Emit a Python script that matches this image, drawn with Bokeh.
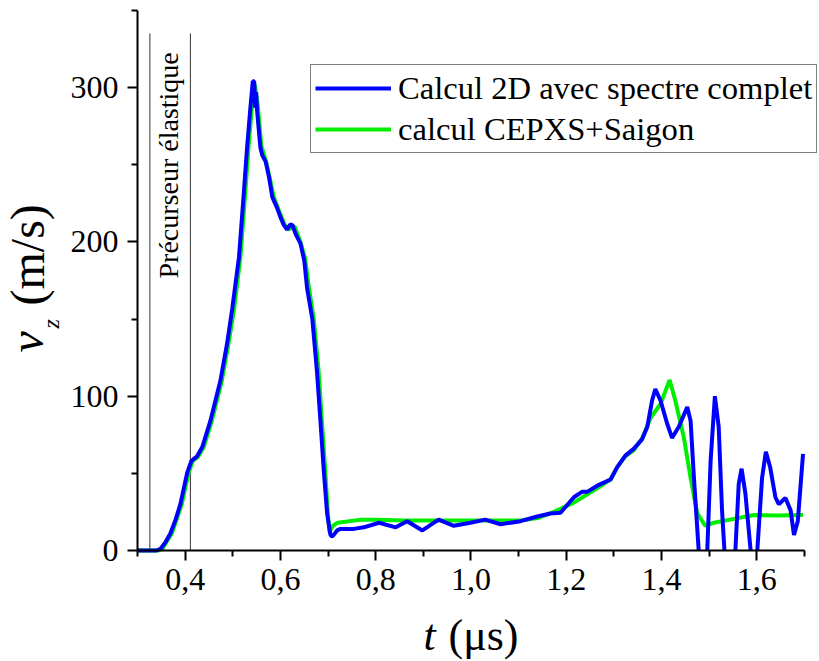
import math
from bokeh.plotting import figure
from bokeh.models import Label, Legend, LegendItem, FixedTicker
from bokeh.embed import file_html
from bokeh.resources import INLINE

nan = float("nan")  # parts of the curve hidden below the axis

# ---- data ----
t_blue = [0.30, 0.34, 0.348, 0.358, 0.369, 0.380, 0.390, 0.404, 0.413, 0.425, 0.436, 0.453,
          0.474, 0.488, 0.499, 0.513, 0.523, 0.530, 0.537, 0.542, 0.545, 0.547, 0.549, 0.551,
          0.558, 0.562, 0.569, 0.576, 0.583, 0.593, 0.600, 0.607, 0.614, 0.620, 0.625, 0.632,
          0.642, 0.650, 0.656, 0.667, 0.677, 0.684, 0.691, 0.698, 0.705, 0.709, 0.719, 0.726,
          0.754, 0.775, 0.807, 0.842, 0.866, 0.898, 0.932, 0.964, 0.999, 1.030, 1.062, 1.104,
          1.139, 1.167, 1.188, 1.216, 1.233, 1.244, 1.265, 1.293, 1.307, 1.324, 1.342, 1.359,
          1.370, 1.380, 1.387, 1.398, 1.412, 1.422, 1.436, 1.454, 1.461, 1.468, 1.478, 1.487,
          1.496, 1.503, 1.512, 1.520, 1.527, 1.532, 1.543, 1.555, 1.562, 1.568, 1.576, 1.587,
          1.594, 1.601, 1.611, 1.619, 1.628, 1.639, 1.646, 1.660, 1.671, 1.678, 1.686, 1.697]
v_blue = [0, 0, 1, 5, 11, 20, 30, 50, 58, 61, 67, 84,
          110, 134, 157, 190, 231, 261, 287, 304, 304, 287, 297, 285,
          261, 256, 252, 242, 229, 222, 216, 211, 208, 211, 211, 205,
          199, 188, 170, 150, 115, 84, 52, 24, 10, 9, 13, 14,
          14, 15, 18, 15, 19, 13, 20, 16, 18, 20, 17, 19,
          22, 24, 24.5, 34.5, 38, 38, 42, 46, 54, 61.5, 66, 72,
          80, 97, 104.6, 97, 82, 73, 80, 93, 84, 47, 0, nan,
          0, 58, 100, 80, 26, 0, nan, 0, 43, 53, 37, 0,
          nan, 0, 47, 64, 54, 34.5, 30, 34, 26, 10, 19, 62.6]

t_green = [0.30, 0.345, 0.352, 0.372, 0.393, 0.407, 0.416, 0.428, 0.439, 0.456, 0.477, 0.491,
           0.503, 0.516, 0.526, 0.533, 0.540, 0.546, 0.552, 0.560, 0.570, 0.578, 0.586, 0.596,
           0.609, 0.617, 0.630, 0.642, 0.652, 0.660, 0.670, 0.680, 0.687, 0.694, 0.700, 0.703,
           0.710, 0.720, 0.770, 0.800, 0.860, 0.960, 1.050, 1.104, 1.140, 1.174, 1.216, 1.258,
           1.293, 1.307, 1.324, 1.342, 1.360, 1.377, 1.398, 1.417, 1.429, 1.447, 1.461, 1.475,
           1.492, 1.510, 1.552, 1.594, 1.643, 1.697]
v_green = [0, 0, 1, 11, 30, 50, 58, 61, 67, 84, 110, 134,
           157, 190, 231, 261, 287, 302, 290, 262, 252, 241, 229, 221,
           211, 208, 210, 200, 189, 170, 150, 117, 84, 52, 22, 12,
           16, 18, 20, 20, 19.5, 19.5, 19.5, 19.5, 21, 25, 31, 39,
           46, 54, 61, 65, 73, 86, 95, 110.5, 97, 73, 47, 24,
           16, 18, 20.5, 23, 22.6, 23]

precursor_t = [0.326, 0.411]
precursor_top = 335

x_ticks = [0.4, 0.6, 0.8, 1.0, 1.2, 1.4, 1.6]
x_tick_labels = ["0,4", "0,6", "0,8", "1,0", "1,2", "1,4", "1,6"]
x_minor = [0.3, 0.5, 0.7, 0.9, 1.1, 1.3, 1.5, 1.7]
y_ticks = [0, 100, 200, 300]
y_minor = [50, 150, 250, 350]
x_bounds = (0.3, 1.7)
y_bounds = (0, 350)

series_names = ["Calcul 2D avec spectre complet", "calcul CEPXS+Saigon"]

# ---- layout (pixels) ----
W, H = 819, 661
AX_LEFT_PX = 137      # pixel column of t = 0.3
AX_BOTTOM_PX = 550    # pixel row of v = 0
PX_PER_T = 476.4
PX_PER_V = 1.5433
x_start = x_bounds[0] - AX_LEFT_PX / PX_PER_T
x_end = x_bounds[0] + (W - AX_LEFT_PX) / PX_PER_T
y_start = -(H - AX_BOTTOM_PX) / PX_PER_V
y_end = AX_BOTTOM_PX / PX_PER_V

SERIF = "Liberation Serif"

p = figure(width=W, height=H, x_range=(x_start, x_end), y_range=(y_start, y_end),
           output_backend="svg", toolbar_location=None, min_border=0)
p.min_border_left = p.min_border_right = p.min_border_top = p.min_border_bottom = 0
p.title.visible = False
p.xgrid.visible = False
p.ygrid.visible = False
p.outline_line_color = None
p.background_fill_color = "white"
p.border_fill_color = "white"

for ax in (p.xaxis[0], p.yaxis[0]):
    ax.axis_line_width = 2
    ax.axis_line_color = "black"
    ax.major_tick_line_width = 2
    ax.minor_tick_line_width = 2
    ax.major_tick_line_color = "black"
    ax.minor_tick_line_color = "black"
    ax.major_tick_in = 0
    ax.major_tick_out = 10
    ax.minor_tick_in = 0
    ax.minor_tick_out = 6
    ax.major_label_text_font = SERIF
    ax.major_label_text_font_size = "32px"
    ax.major_label_text_color = "black"
    ax.major_label_standoff = 8

p.xaxis.fixed_location = y_bounds[0]
p.xaxis.bounds = x_bounds
p.yaxis.fixed_location = x_bounds[0]
p.yaxis.bounds = y_bounds
p.yaxis.major_label_standoff = 9
p.xaxis.ticker = FixedTicker(ticks=x_ticks, minor_ticks=x_minor)
p.xaxis.major_label_overrides = {t: lab for t, lab in zip(x_ticks, x_tick_labels)}
p.yaxis.ticker = FixedTicker(ticks=y_ticks, minor_ticks=y_minor)

# precursor lines
p.segment(x0=precursor_t, y0=[0, 0], x1=precursor_t, y1=[precursor_top, precursor_top],
          line_color="#303030", line_width=1)

rg = p.line(t_green, v_green, line_color="#00ee00", line_width=4)
rb = p.line(t_blue, v_blue, line_color="#0000ff", line_width=4)

legend = Legend(items=[LegendItem(label=series_names[0], renderers=[rb]),
                       LegendItem(label=series_names[1], renderers=[rg])],
                location=(310, H - 153), label_text_font=SERIF, label_text_font_size="32.6px",
                label_text_color="black", glyph_width=76, glyph_height=38, label_height=38,
                label_standoff=7, padding=4, spacing=3, margin=0,
                border_line_color="black", border_line_width=1,
                background_fill_color="white", background_fill_alpha=1)
p.add_layout(legend)


def add_text(px, py, text, size, style="normal", vertical=False):
    # px, py: baseline start, in pixels from the top-left of the picture.
    # The label is drawn about 0.33 em lower than its anchor, so lift the anchor.
    lift = 0.33 * size
    if vertical:
        px -= lift
    else:
        py -= lift
    p.add_layout(Label(x=px, y=H - py, x_units="screen", y_units="screen", text=text,
                       angle=math.pi / 2 if vertical else 0.0, text_font=SERIF,
                       text_font_size=f"{size}px", text_font_style=style,
                       text_align="left", text_baseline="alphabetic", text_color="black"))


add_text(177, 278, "Précurseur élastique", 28, vertical=True)
# y axis label: v_z (m/s)
add_text(42, 352, "v", 48, "italic", True)
add_text(58, 328, "z", 24, "italic", True)
add_text(43, 305, "(m/s)", 48, vertical=True)
# x axis label: t (µs)
add_text(423, 650, "t", 44, "italic")
add_text(448, 650, "(μs)", 44)

open("out.html", "w").write(file_html(p, INLINE))
